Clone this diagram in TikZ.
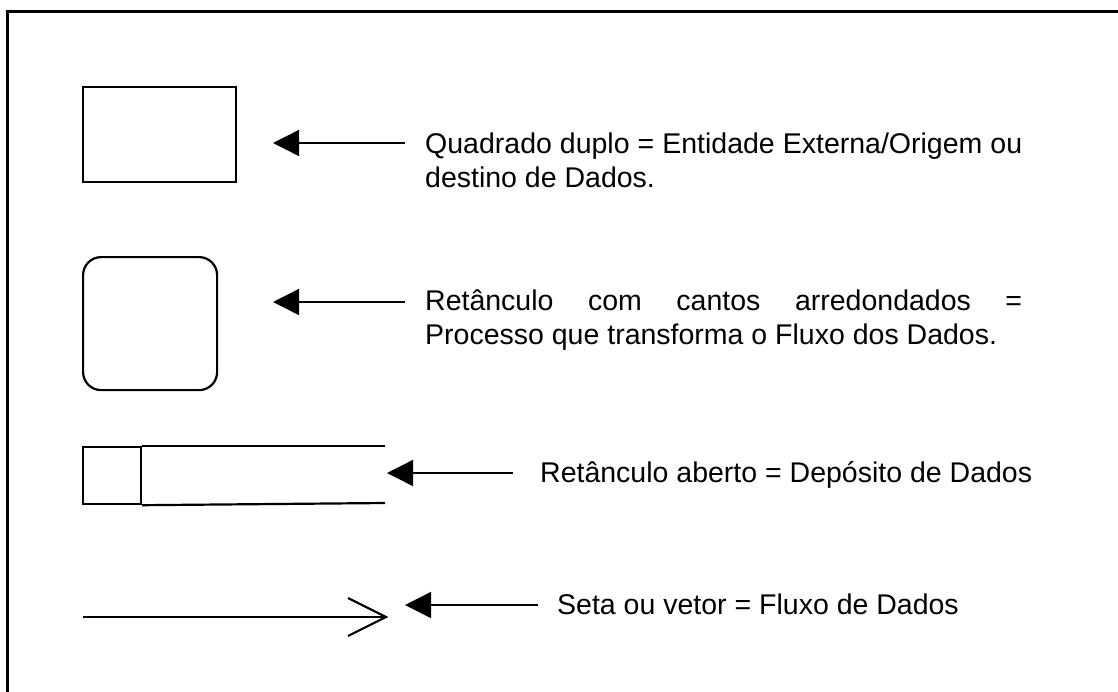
\documentclass[tikz,border=0pt]{standalone}
\usepackage{fontspec}
\setmainfont{Liberation Sans}
\usetikzlibrary{arrows.meta,calc}
\begin{document}
\begin{tikzpicture}[x=1pt,y=-1pt,
  symbolshape/.style={draw, line width=2.2pt, inner sep=0pt, anchor=north west},
  symbolline/.style={line width=2.2pt},
  pointer/.style={line width=1.4pt, -{Triangle[length=26pt,width=26pt]}},
  legend/.style={anchor=base west, inner sep=0pt, font=\fontsize{28.5}{34}\selectfont},
]
\useasboundingbox (0,0) rectangle (1118,691);
\draw[line width=3pt] (7.5,11) rectangle (1140,710);

% symbols
\node[symbolshape, minimum width=153pt, minimum height=95pt] (ext) at (82,86) {};
\node[symbolshape, rounded corners=18pt, minimum width=134pt, minimum height=133pt] (proc) at (82,256) {};
\node[symbolshape, minimum width=58pt, minimum height=57pt] (store) at (82,446) {};
\coordinate (storeTR) at (385,446);
\coordinate (storeBR) at (385,503);
\draw[symbolline] (store.north east) -- (storeTR);
\draw[symbolline] (store.south east) -- (storeBR);
\coordinate (fa) at (83,617);
\coordinate (fb) at (386,617);
\draw[symbolline] (fa) -- (fb);
\draw[symbolline] ($(fb)+(-38,-19)$) -- (fb) -- ($(fb)+(-38,19)$);

% legend texts
\node[legend] (t1a) at (425,153) {\makebox[597pt][s]{Quadrado duplo = Entidade Externa/Origem ou}};
\node[legend] (t1b) at (425,187) {destino de Dados.};
\node[legend] (t2a) at (425,310) {\makebox[597pt][s]{Retânculo com cantos arredondados =}};
\node[legend] (t2b) at (425,344) {Processo que transforma o Fluxo dos Dados.};
\node[legend] (t3) at (540,482) {Retânculo aberto = Depósito de Dados};
\node[legend] (t4) at (557,614) {Seta ou vetor = Fluxo de Dados};

% pointers
\coordinate (p1s) at (405,143); \coordinate (p1e) at (273,143);
\coordinate (p2s) at (405,302); \coordinate (p2e) at (273,302);
\coordinate (p3s) at (513,473); \coordinate (p3e) at (387,473);
\coordinate (p4s) at (538,605); \coordinate (p4e) at (405,605);
\draw[pointer] (p1s) -- (p1e);
\draw[pointer] (p2s) -- (p2e);
\draw[pointer] (p3s) -- (p3e);
\draw[pointer] (p4s) -- (p4e);
\end{tikzpicture}
\end{document}
